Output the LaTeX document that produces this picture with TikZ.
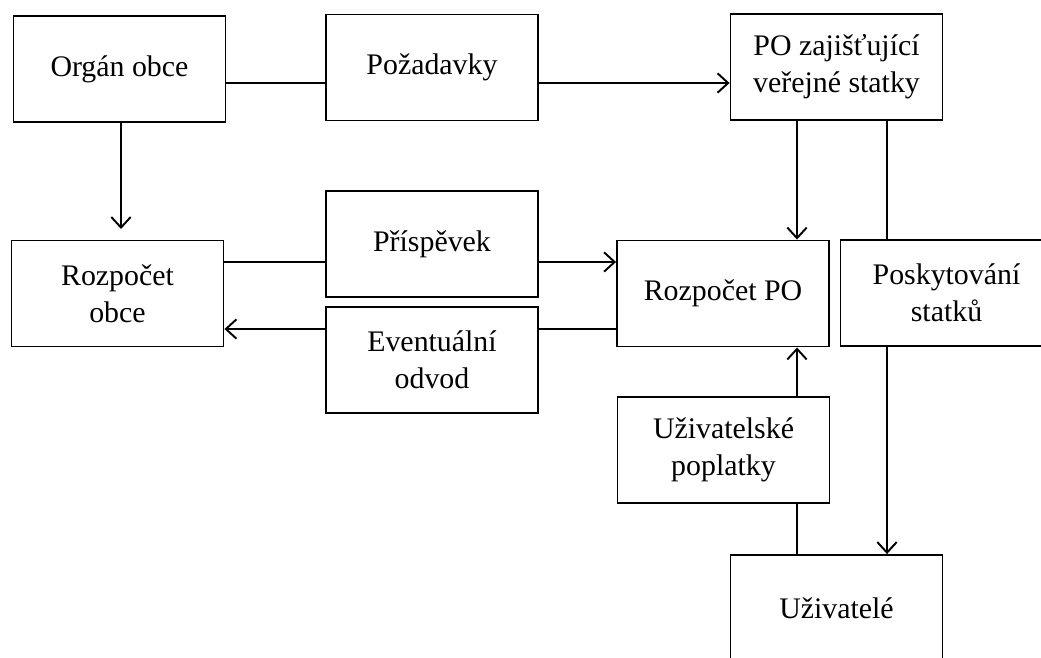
\documentclass[tikz,border=0pt]{standalone}
\usepackage{fontspec}
\setmainfont{Liberation Serif}
\usetikzlibrary{arrows.meta}

\tikzset{
    box/.style={draw, line width=1.1pt, minimum width=4.24cm, minimum height=2.12cm,
        align=center, font=\fontsize{17}{21}\selectfont},
    link/.style={line width=1.1pt},
    flow/.style={link, -{Straight Barb[length=6pt, width=11pt]}}
}

\begin{document}
\begin{tikzpicture}[x=0.02cm, y=-0.02cm]
    \useasboundingbox (0,0) rectangle (1041,657);
    \clip (0,0) rectangle (1041,657);

    \node[box] (organ) at (119.5,69) {Orgán obce};
    \node[box] (pozadavky) at (432,67.5) {Požadavky};
    \node[box] (po) at (836.5,67) {PO zajišťující\\veřejné statky};

    \node[box] (rozobce) at (117.5,293.5) {Rozpočet\\obce};
    \node[box] (prispevek) at (432,244) {Příspěvek};
    \node[box] (odvod) at (432,360) {Eventuální\\odvod};
    \node[box] (rozpo) at (723,293.5) {Rozpočet PO};
    \node[box] (poskyt) at (946.5,293) {Poskytování\\statků};

    \node[box] (poplatky) at (723.5,450) {Uživatelské\\poplatky};
    \node[box] (uzivatele) at (836.5,608) {Uživatelé};

    \coordinate (obce-in) at (121,229);

    \draw[link] (organ.east |- 0,83) -- (pozadavky.west |- 0,83);
    \draw[flow] (pozadavky.east |- 0,83) -- (po.west |- 0,83);
    \draw[flow] (organ.south -| obce-in) -- (obce-in);

    \draw[link] (rozobce.east |- 0,262) -- (prispevek.west |- 0,262);
    \draw[flow] (prispevek.east |- 0,262) -- (rozpo.west |- 0,262);
    \draw[link] (rozpo.west |- 0,329) -- (odvod.east |- 0,329);
    \draw[flow] (odvod.west |- 0,329) -- (rozobce.east |- 0,329);

    \draw[flow] (po.south -| 797,0) -- (rozpo.north -| 797,0);
    \draw[link] (po.south -| 887,0) -- (poskyt.north -| 887,0);
    \draw[flow] (poskyt.south -| 887,0) -- (uzivatele.north -| 887,0);

    \draw[link] (uzivatele.north -| 797,0) -- (poplatky.south -| 797,0);
    \draw[flow] (poplatky.north -| 797,0) -- (rozpo.south -| 797,0);
\end{tikzpicture}
\end{document}
